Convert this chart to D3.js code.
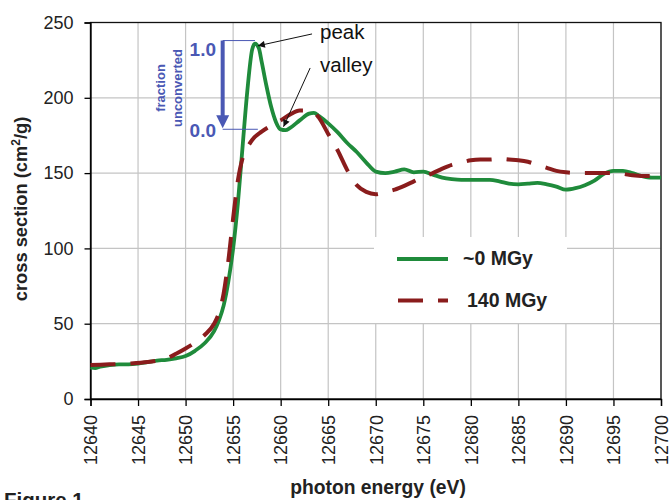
<!DOCTYPE html>
<html>
<head>
<meta charset="utf-8">
<script src="https://cdn.jsdelivr.net/npm/d3@7/dist/d3.min.js"></script>
<style>
  body { margin: 0; background: #fff; }
  svg { display: block; font-family: "Liberation Sans", Arial, sans-serif; }
  .grid line { stroke: #c4c4c4; stroke-width: 1.2; }
  .axis path, .axis line { stroke: #000; stroke-width: 1.3; }
  .axis text { font-size: 18px; fill: #222; }
</style>
</head>
<body>
<div id="chart"></div>
<script>
// ~0 MGy (solid green)
const energy0 = [12640, 12640.5, 12641, 12642, 12643, 12644, 12645, 12646, 12647, 12648, 12649, 12650,
  12651, 12652, 12653, 12653.5, 12654, 12654.5, 12655, 12655.5, 12656, 12656.5, 12657, 12657.3, 12657.7,
  12658, 12658.5, 12659, 12659.5, 12660, 12660.5, 12661, 12662, 12663, 12663.5, 12664, 12665, 12666,
  12667, 12668, 12669, 12670, 12671, 12672, 12673, 12674, 12675, 12676, 12677, 12678, 12679, 12680,
  12681, 12682, 12683, 12684, 12685, 12686, 12687, 12688, 12689, 12690, 12691, 12692, 12693, 12694,
  12695, 12696, 12697, 12698, 12699, 12700];
const section0 = [21, 20.5, 21.5, 22.5, 23, 23, 23.5, 24.5, 25.5, 26, 27, 28.5,
  32, 37, 45, 52, 62, 78, 100, 130, 168, 205, 232, 236, 233,
  224, 208, 194, 184, 179, 178.5, 180, 185, 189.5, 190, 188, 183, 177,
  170, 164, 157, 151, 150, 151, 152.5, 150.5, 151, 149, 147, 146, 145.5, 145.5,
  145.5, 145.5, 144.5, 143, 142.5, 143, 143.5, 142.5, 141, 139, 140, 142, 145, 149.5,
  151.5, 151.5, 150, 148, 147, 147];

// 140 MGy (dashed dark red)
const energy140 = [12640, 12642, 12644, 12646, 12647, 12648, 12649, 12650, 12651, 12652, 12653, 12653.5,
  12654, 12654.5, 12655, 12655.5, 12656, 12656.5, 12657, 12658, 12659, 12660, 12661, 12662, 12663,
  12663.5, 12664, 12665, 12666, 12667, 12668, 12669, 12670, 12671, 12672, 12673, 12674, 12675, 12676,
  12677, 12678, 12679, 12680, 12681, 12682, 12683, 12684, 12685, 12686, 12687, 12688, 12689, 12690,
  12691, 12692, 12693, 12694, 12695, 12696, 12697, 12698, 12699, 12700];
const section140 = [22.5, 23, 23.5, 24.5, 25.5, 27, 30, 33.5, 37.5, 42.5, 50, 57,
  70, 92, 120, 145, 160, 167, 172, 177.5, 181.5, 185, 189, 191.5, 191.5,
  190.5, 187, 176, 165, 152, 142, 137.5, 136, 137.5, 139, 141.5, 144.5, 147.5, 150,
  153, 155.5, 157, 158.5, 159, 159, 159.5, 159, 158.5, 157.5, 155.5, 153.5, 151.5, 150.5,
  150, 150, 150, 150, 150, 149.5, 148.5, 148, 148, 148];

const xTicks = [12640, 12645, 12650, 12655, 12660, 12665, 12670, 12675, 12680, 12685, 12690, 12695, 12700];
const yTicks = [0, 50, 100, 150, 200, 250];
const seriesNames = ['~0 MGy', '140 MGy'];

const W = 670, H = 500;
const margin = {top: 22.5, right: 9, bottom: 101, left: 90.5};
const green = '#1f8b3b', red = '#8a1c1c', blue = '#4a58b4';

const svg = d3.select('#chart').append('svg').attr('width', W).attr('height', H);
svg.append('rect').attr('width', W).attr('height', H).attr('fill', '#fff');

const x = d3.scaleLinear().domain([12640, 12700]).range([margin.left, W - margin.right]);
const y = d3.scaleLinear().domain([0, 250]).range([H - margin.bottom, margin.top]);

// grid
const grid = svg.append('g').attr('class', 'grid');
grid.selectAll('.vx').data(xTicks).join('line')
  .attr('x1', d => x(d)).attr('x2', d => x(d)).attr('y1', y(0)).attr('y2', y(250));
grid.selectAll('.hy').data(yTicks).join('line')
  .attr('x1', x(12640)).attr('x2', x(12700)).attr('y1', d => y(d)).attr('y2', d => y(d));

// legend box (white, sits over grid)
svg.append('rect')
  .attr('x', 374).attr('y', 237).attr('width', 193).attr('height', 86).attr('fill', '#fff');

// frame
svg.append('rect')
  .attr('x', x(12640)).attr('y', y(250)).attr('width', x(12700) - x(12640)).attr('height', y(0) - y(250))
  .attr('fill', 'none').attr('stroke', '#111').attr('stroke-width', 1.3);

// axes
svg.append('g').attr('class', 'axis')
  .attr('transform', 'translate(' + x(12640) + ',0)')
  .call(d3.axisLeft(y).tickValues(yTicks).tickSize(6).tickPadding(11).tickFormat(d3.format('d')));

const xAxis = svg.append('g').attr('class', 'axis')
  .attr('transform', 'translate(0,' + y(0) + ')')
  .call(d3.axisBottom(x).tickValues(xTicks).tickSize(7).tickFormat(d3.format('d')));
xAxis.selectAll('text')
  .attr('transform', 'rotate(-90)')
  .attr('x', -16).attr('y', 0).attr('dy', '0.35em')
  .style('text-anchor', 'end');

// lines
const line = d3.line().x(d => x(d[0])).y(d => y(d[1])).curve(d3.curveMonotoneX);

svg.append('path')
  .datum(energy0.map((e, i) => [e, section0[i]]))
  .attr('d', line).attr('fill', 'none')
  .attr('stroke', green).attr('stroke-width', 3.8).attr('stroke-linejoin', 'round');

svg.append('path')
  .datum(energy140.map((e, i) => [e, section140[i]]))
  .attr('d', line).attr('fill', 'none')
  .attr('stroke', red).attr('stroke-width', 4).attr('stroke-dasharray', '25,15');

// legend
const lg = svg.append('g');
lg.append('line').attr('x1', 397).attr('x2', 448).attr('y1', 259).attr('y2', 259)
  .attr('stroke', green).attr('stroke-width', 3.8);
lg.append('line').attr('x1', 398).attr('x2', 448).attr('y1', 300.5).attr('y2', 300.5)
  .attr('stroke', red).attr('stroke-width', 4).attr('stroke-dasharray', '25,15');
lg.selectAll('text').data(seriesNames).join('text')
  .attr('x', (d, i) => i ? 467 : 463).attr('y', (d, i) => i ? 306.5 : 265)
  .attr('font-size', 19.5).attr('font-weight', 'bold').attr('fill', '#222')
  .text(d => d);

// annotation arrows (black)
const defs = svg.append('defs');
defs.append('marker').attr('id', 'ah').attr('viewBox', '0 0 10 10')
  .attr('refX', 10).attr('refY', 5).attr('markerWidth', 9).attr('markerHeight', 7)
  .attr('markerUnits', 'userSpaceOnUse').attr('orient', 'auto')
  .append('path').attr('d', 'M0,0L10,5L0,10Z').attr('fill', '#111');

svg.append('line')
  .attr('x1', x(12663.3)).attr('y1', y(242.4)).attr('x2', x(12657.6)).attr('y2', y(234.5))
  .attr('stroke', '#111').attr('stroke-width', 1).attr('marker-end', 'url(#ah)');
svg.append('line')
  .attr('x1', x(12663.1)).attr('y1', y(219.8)).attr('x2', x(12660.3)).attr('y2', y(180.8))
  .attr('stroke', '#111').attr('stroke-width', 1).attr('marker-end', 'url(#ah)');
svg.append('text').attr('x', 320).attr('y', 38.5).attr('font-size', 20.5).attr('fill', '#111').text('peak');
svg.append('text').attr('x', 320).attr('y', 72).attr('font-size', 20.5).attr('fill', '#111').text('valley');

// blue "fraction unconverted" bracket
const bx = x(12653.9), topY = y(238), botY = y(179.1);
svg.append('line').attr('x1', bx).attr('x2', x(12657.3)).attr('y1', topY).attr('y2', topY)
  .attr('stroke', blue).attr('stroke-width', 1);
svg.append('line').attr('x1', bx).attr('x2', x(12657.6)).attr('y1', botY).attr('y2', botY)
  .attr('stroke', blue).attr('stroke-width', 1);
svg.append('line').attr('x1', bx).attr('x2', bx).attr('y1', topY).attr('y2', botY - 12)
  .attr('stroke', blue).attr('stroke-width', 4);
svg.append('path')
  .attr('d', 'M' + (bx - 6.5) + ',' + (botY - 14) + 'L' + (bx + 6.5) + ',' + (botY - 14) + 'L' + bx + ',' + (botY - 1) + 'Z')
  .attr('fill', blue);
svg.append('text').attr('x', 216).attr('y', 56).attr('text-anchor', 'end')
  .attr('font-size', 19).attr('font-weight', 'bold').attr('fill', blue).text('1.0');
svg.append('text').attr('x', 216).attr('y', 136.5).attr('text-anchor', 'end')
  .attr('font-size', 19).attr('font-weight', 'bold').attr('fill', blue).text('0.0');
svg.append('text').attr('transform', 'translate(165,88) rotate(-90)').attr('text-anchor', 'middle')
  .attr('font-size', 13).attr('font-weight', 'bold').attr('fill', blue).text('fraction');
svg.append('text').attr('transform', 'translate(182,88) rotate(-90)').attr('text-anchor', 'middle')
  .attr('font-size', 13).attr('font-weight', 'bold').attr('fill', blue).text('unconverted');

// axis titles
const yt = svg.append('text').attr('transform', 'translate(27,209) rotate(-90)').attr('text-anchor', 'middle')
  .attr('font-size', 18.3).attr('font-weight', 'bold').attr('fill', '#222');
yt.append('tspan').text('cross section (cm');
yt.append('tspan').attr('font-size', 12).attr('dy', -7).text('2');
yt.append('tspan').attr('dy', 7).text('/g)');

svg.append('text').attr('x', 378).attr('y', 494).attr('text-anchor', 'middle')
  .attr('font-size', 19.3).attr('font-weight', 'bold').attr('fill', '#222').text('photon energy (eV)');

svg.append('text').attr('x', 4).attr('y', 507).attr('font-size', 20.5).attr('font-weight', 'bold')
  .attr('fill', '#222').text('Figure 1');
</script>
</body>
</html>
